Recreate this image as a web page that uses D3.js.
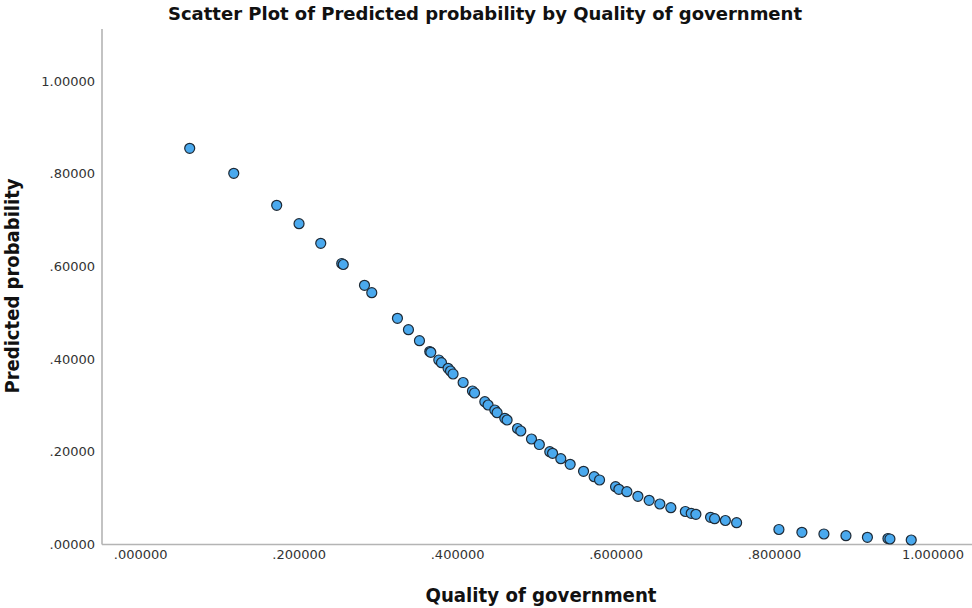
<!DOCTYPE html>
<html>
<head>
<meta charset="utf-8">
<script src="https://cdn.jsdelivr.net/npm/d3@7"></script>
<style>
  html, body { margin: 0; padding: 0; background: #fff; }
  svg { display: block; }
</style>
</head>
<body>
<svg id="chart" width="972" height="608"></svg>
<script>
// Quality of government (x) and predicted probability (y) per case
const quality = [
  0.0625, 0.1181, 0.1723, 0.2005, 0.2279, 0.2544, 0.2563, 0.2831, 0.2923,
  0.3247, 0.3386, 0.3525, 0.3655, 0.3668, 0.3769, 0.3803, 0.3886, 0.3917,
  0.3949, 0.4076, 0.4194, 0.4220, 0.4350, 0.4391, 0.4476, 0.4505, 0.4602,
  0.4631, 0.4763, 0.4804, 0.4939, 0.5038, 0.5170, 0.5205, 0.5309, 0.5427,
  0.5596, 0.5730, 0.5798, 0.6000, 0.6042, 0.6143, 0.6282, 0.6424, 0.6559,
  0.6698, 0.6881, 0.6955, 0.7014, 0.7199, 0.7250, 0.7386, 0.7528, 0.8062,
  0.8352, 0.8630, 0.8908, 0.9179, 0.9438, 0.9463, 0.9732
];
const predicted = [
  0.8548, 0.8009, 0.7318, 0.6921, 0.6498, 0.6063, 0.6041, 0.5592, 0.5433,
  0.4880, 0.4634, 0.4397, 0.4164, 0.4147, 0.3981, 0.3922, 0.3801, 0.3743,
  0.3679, 0.3495, 0.3312, 0.3269, 0.3081, 0.3010, 0.2902, 0.2844, 0.2723,
  0.2686, 0.2503, 0.2449, 0.2276, 0.2157, 0.2002, 0.1968, 0.1851, 0.1730,
  0.1579, 0.1463, 0.1392, 0.1247, 0.1191, 0.1139, 0.1040, 0.0954, 0.0874,
  0.0794, 0.0712, 0.0673, 0.0652, 0.0587, 0.0557, 0.0518, 0.0470, 0.0324,
  0.0263, 0.0227, 0.0190, 0.0155, 0.0129, 0.0119, 0.0097
];
const xTicks = [0, 0.2, 0.4, 0.6, 0.8, 1.0];
const yTicks = [0, 0.2, 0.4, 0.6, 0.8, 1.0];

const titleText = "Scatter Plot of Predicted probability by Quality of government";
const xTitle = "Quality of government";
const yTitle = "Predicted probability";

const svg = d3.select("#chart");
const W = 972, H = 608;
const m = { left: 102, right: 0, top: 29, bottom: 63.5 };

const x = d3.scaleLinear().domain([-0.0482, 1.0499]).range([m.left, W - m.right]);
const y = d3.scaleLinear().domain([0, 1.1122]).range([H - m.bottom, m.top]);

const fmtX = v => { const s = v.toFixed(6); return s.startsWith("0") ? s.slice(1) : s; };
const fmtY = v => { const s = v.toFixed(5); return s.startsWith("0") ? s.slice(1) : s; };

const labelFont = "'DejaVu Sans', sans-serif";
const titleFont = "'DejaVu Sans Condensed', 'DejaVu Sans', sans-serif";

// x axis
const gx = svg.append("g")
  .attr("transform", `translate(0,${H - m.bottom})`)
  .call(d3.axisBottom(x).tickValues(xTicks).tickFormat(fmtX).tickSize(0).tickPadding(5));
gx.select(".domain").attr("stroke", "#b4b4b4").attr("stroke-width", 1.6)
  .attr("d", `M${m.left},0H${W}`);
gx.selectAll("text").attr("font-family", labelFont).attr("font-size", 13).attr("fill", "#333");

// y axis
const gy = svg.append("g")
  .attr("transform", `translate(${m.left},0)`)
  .call(d3.axisLeft(y).tickValues(yTicks).tickFormat(fmtY).tickSize(0).tickPadding(7));
gy.select(".domain").attr("stroke", "#b4b4b4").attr("stroke-width", 1.6)
  .attr("d", `M0,${m.top}V${H - m.bottom}`);
gy.selectAll("text").attr("font-family", labelFont).attr("font-size", 13).attr("fill", "#333");

// points
const pts = quality.map((q, i) => ({ q, p: predicted[i] }));
svg.append("g").selectAll("circle")
  .data(pts)
  .join("circle")
  .attr("cx", d => x(d.q))
  .attr("cy", d => y(d.p))
  .attr("r", 5)
  .attr("fill", "#4aa9ee")
  .attr("stroke", "#1e2a36")
  .attr("stroke-width", 1.2);

// titles
svg.append("text")
  .attr("x", 485).attr("y", 20)
  .attr("text-anchor", "middle")
  .attr("font-family", titleFont).attr("font-weight", "bold").attr("font-size", 17)
  .attr("fill", "#111")
  .attr("textLength", 634).attr("lengthAdjust", "spacingAndGlyphs")
  .text(titleText);

svg.append("text")
  .attr("x", 541).attr("y", 602)
  .attr("text-anchor", "middle")
  .attr("font-family", titleFont).attr("font-weight", "bold").attr("font-size", 19)
  .attr("fill", "#111")
  .attr("textLength", 231).attr("lengthAdjust", "spacingAndGlyphs")
  .text(xTitle);

svg.append("text")
  .attr("transform", "translate(19,286) rotate(-90)")
  .attr("text-anchor", "middle")
  .attr("font-family", titleFont).attr("font-weight", "bold").attr("font-size", 19)
  .attr("fill", "#111")
  .attr("textLength", 215).attr("lengthAdjust", "spacingAndGlyphs")
  .text(yTitle);
</script>
</body>
</html>
